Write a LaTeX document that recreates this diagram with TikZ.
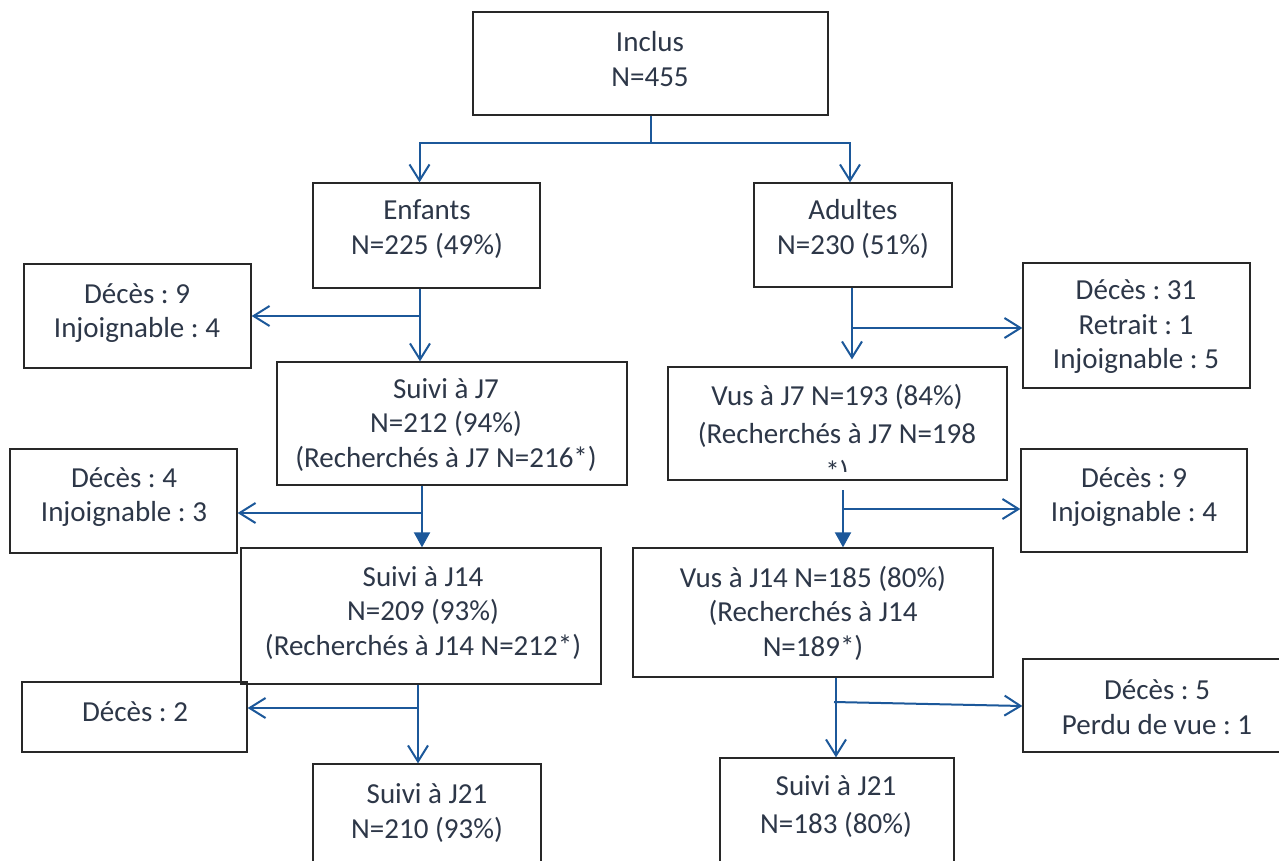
\documentclass[tikz,border=0pt]{standalone}
\usepackage{fontspec}
\setmainfont{Carlito}
\usetikzlibrary{arrows.meta,calc}
\frenchspacing
\definecolor{txtc}{RGB}{45,55,72}
\definecolor{boxc}{RGB}{40,40,40}
\definecolor{arrc}{RGB}{28,88,154}
\tikzset{
  box/.style={draw=boxc, line width=1.3pt, rectangle, inner sep=0pt},
  txt/.style={text=txtc, align=center, inner sep=0pt, font=\fontsize{29}{34.5}\selectfont},
  wide/.style={font=\fontsize{29}{38}\selectfont},
  conn/.style={draw=arrc, line width=2pt, -{Straight Barb[length=16pt,width=20pt]}},
  connf/.style={draw=arrc, line width=2pt, -{Triangle[length=15pt,width=16pt]}},
  trunk/.style={draw=arrc, line width=2pt}
}
% box from its corners
\newcommand{\bx}[5]{\node[box, minimum width={(#4-#2)*1pt}, minimum height={(#5-#3)*1pt}] (#1) at ({(#2+#4)/2},{(#3+#5)/2}) {};}
\begin{document}
\begin{tikzpicture}[x=1pt,y=-1pt]
\useasboundingbox (0,0) rectangle (1279,861);
\clip (0,0) rectangle (1279,861);
\fill[white] (0,0) rectangle (1279,861);

% boxes
\bx{incl}{473}{12}{828}{115}
\bx{enf}{313}{183}{540}{288}
\bx{adu}{754}{183}{952}{287}
\bx{dl1}{24}{264}{251}{368}
\bx{sl7}{277}{362}{627}{485}
\bx{dr1}{1023}{263}{1250}{388}
\bx{vr7}{668}{367}{1007}{480}
\bx{dl2}{10}{449}{237}{553}
\bx{dr2}{1021}{449}{1247}{552}
\bx{sl14}{241}{548}{601}{684}
\bx{vr14}{633}{548}{993}{677}
\bx{dl3}{22}{682}{247}{752}
\bx{dr3}{1023}{659}{1291}{752}
\bx{sl21}{313}{764}{541}{880}
\bx{sr21}{720}{758}{954}{880}

% labels
\node[txt] (t-incl) at (650,59) {Inclus\\N=455};
\node[txt] (t-enf) at (427,229) {Enfants\\N=225 (49\%)};
\node[txt] (t-adu) at (853,229) {Adultes\\N=230 (51\%)};
\node[txt] (t-dl1) at (137,313) {Décès : 9\\Injoignable : 4};
\node[txt] (t-sl7) at (446,425) {Suivi à J7\\N=212 (94\%)\\(Recherchés à J7 N=216*)};
\node[txt] (t-dr1) at (1136,327) {Décès : 31\\Retrait : 1\\Injoignable : 5};
\begin{scope}
  \clip (668,367) rectangle (1007,471);
  \node[txt,wide] (t-vr7) at (837,435) {Vus à J7 N=193 (84\%)\\(Recherchés à J7 N=198\\*)};
\end{scope}
\node[txt] (t-dl2) at (124,497) {Décès : 4\\Injoignable : 3};
\node[txt] (t-dr2) at (1134,497) {Décès : 9\\Injoignable : 4};
\node[txt] (t-sl14) at (423,613) {Suivi à J14\\N=209 (93\%)\\(Recherchés à J14 N=212*)};
\node[txt] (t-vr14) at (813,613) {Vus à J14 N=185 (80\%)\\(Recherchés à J14\\N=189*)};
\node[txt] (t-dl3) at (135,712) {Décès : 2};
\node[txt] (t-dr3) at (1157,707) {Décès : 5\\Perdu de vue : 1};
\node[txt] (t-sl21) at (427,813) {Suivi à J21\\N=210 (93\%)};
\node[txt,wide] (t-sr21) at (836,807) {Suivi à J21\\N=183 (80\%)};

% split under the first box
\coordinate (j0) at (650.5,143);
\draw[trunk] (incl.south) -- (j0);
\draw[conn] (j0) -| ([xshift=-7pt]enf.north);
\draw[conn] (j0) -| ([xshift=-3pt]adu.north);

% children branch
\coordinate (bl1) at (420,316);
\draw[conn] ([xshift=-6.5pt]enf.south) -- ([xshift=-6.5pt]enf.south |- sl7.north);
\draw[conn] (bl1) -- (bl1 -| dl1.east);
\coordinate (bl2) at (422,513);
\draw[connf] (sl7.south -| bl2) -- (bl2 |- sl14.north);
\draw[conn] (bl2) -- (bl2 -| dl2.east);
\coordinate (bl3) at (418,708);
\draw[conn] (sl14.south -| bl3) -- (bl3 |- sl21.north);
\draw[conn] (bl3) -- (bl3 -| dl3.east);

% adults branch
\coordinate (br1) at (852,328);
\draw[conn] (adu.south -| br1) -- ($(br1 |- vr7.north)+(0,-7)$);
\draw[conn] (br1) -- (br1 -| dr1.west);
\coordinate (br2) at (843,509);
\draw[connf] (843,490) -- (br2 |- vr14.north);
\draw[conn] (br2) -- (br2 -| dr2.west);
\coordinate (br3) at (836,702);
\draw[conn] (vr14.south -| br3) -- (br3 |- sr21.north);
\draw[conn] ([xshift=-2pt]br3) -- ([yshift=-0.5pt]dr3.west);
\end{tikzpicture}
\end{document}
